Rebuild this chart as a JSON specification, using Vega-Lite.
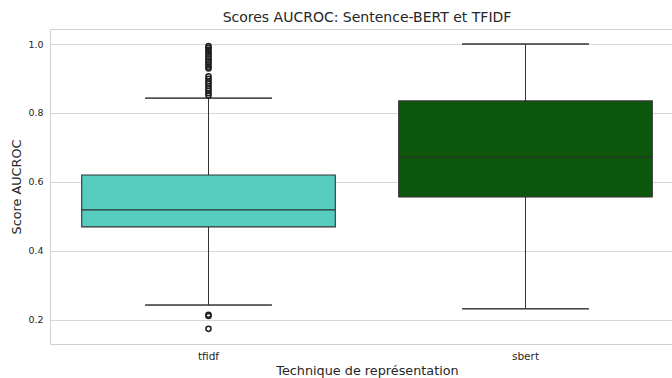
{
  "$schema": "https://vega.github.io/schema/vega-lite/v6.json",
  "autosize": {"type": "none"},
  "padding": {"left": 50, "top": 29, "right": 0, "bottom": 34},
  "width": 634,
  "height": 315,
  "background": "white",
  "config": {
    "font": "DejaVu Sans",
    "view": {"stroke": "#d0d0d0", "strokeWidth": 1},
    "axis": {
      "domain": false,
      "ticks": false,
      "labelColor": "#262626",
      "titleColor": "#262626",
      "titleFontWeight": "normal",
      "gridColor": "#d6d6d6",
      "gridWidth": 1
    }
  },
  "title": {
    "text": "Scores AUCROC: Sentence-BERT et TFIDF",
    "fontSize": 14,
    "fontWeight": "normal",
    "color": "#262626",
    "offset": 4
  },
  "datasets": {
    "boxes": [
      {"technique": "tfidf", "lower": 0.243, "q1": 0.4696, "median": 0.519, "q3": 0.620, "upper": 0.843},
      {"technique": "sbert", "lower": 0.232, "q1": 0.5565, "median": 0.672, "q3": 0.835, "upper": 1.0}
    ],
    "outliers": [
      {"technique": "tfidf", "score": 0.994},
      {"technique": "tfidf", "score": 0.989},
      {"technique": "tfidf", "score": 0.983},
      {"technique": "tfidf", "score": 0.977},
      {"technique": "tfidf", "score": 0.971},
      {"technique": "tfidf", "score": 0.964},
      {"technique": "tfidf", "score": 0.958},
      {"technique": "tfidf", "score": 0.952},
      {"technique": "tfidf", "score": 0.946},
      {"technique": "tfidf", "score": 0.940},
      {"technique": "tfidf", "score": 0.934},
      {"technique": "tfidf", "score": 0.929},
      {"technique": "tfidf", "score": 0.906},
      {"technique": "tfidf", "score": 0.899},
      {"technique": "tfidf", "score": 0.892},
      {"technique": "tfidf", "score": 0.885},
      {"technique": "tfidf", "score": 0.878},
      {"technique": "tfidf", "score": 0.871},
      {"technique": "tfidf", "score": 0.864},
      {"technique": "tfidf", "score": 0.857},
      {"technique": "tfidf", "score": 0.851},
      {"technique": "tfidf", "score": 0.215},
      {"technique": "tfidf", "score": 0.211},
      {"technique": "tfidf", "score": 0.174}
    ]
  },
  "encoding": {
    "x": {
      "field": "technique",
      "type": "nominal",
      "sort": ["tfidf", "sbert"],
      "scale": {"domain": ["tfidf", "sbert"], "paddingInner": 0, "paddingOuter": 0},
      "axis": {
        "title": "Technique de représentation",
        "labelAngle": 0,
        "labelFontSize": 10.5,
        "labelPadding": 7,
        "titleFontSize": 12.8,
        "titlePadding": 3,
        "grid": false
      }
    }
  },
  "layer": [
    {
      "data": {"name": "boxes"},
      "mark": {"type": "rule", "color": "#333333", "strokeWidth": 1},
      "encoding": {
        "y": {
          "field": "lower",
          "type": "quantitative",
          "scale": {"domain": [0.13, 1.0435], "nice": false, "zero": false},
          "axis": {
            "title": "Score AUCROC",
            "values": [0.2, 0.4, 0.6, 0.8, 1.0],
            "format": ".1f",
            "labelFontSize": 9.5,
            "labelPadding": 7,
            "titleFontSize": 12.8,
            "titlePadding": 4,
            "grid": true
          }
        },
        "y2": {"field": "upper"}
      }
    },
    {
      "data": {"name": "boxes"},
      "mark": {"type": "bar", "width": {"band": 0.8}, "stroke": "#333333", "strokeWidth": 1.1, "opacity": 1},
      "encoding": {
        "y": {"field": "q1", "type": "quantitative"},
        "y2": {"field": "q3"},
        "fill": {
          "field": "technique",
          "type": "nominal",
          "scale": {"domain": ["tfidf", "sbert"], "range": ["#56cdc0", "#0d570d"]},
          "legend": null
        }
      }
    },
    {
      "data": {"name": "boxes"},
      "mark": {"type": "bar", "width": {"band": 0.8}, "fillOpacity": 0, "stroke": "#263326", "strokeWidth": 1.2},
      "encoding": {
        "y": {"field": "median", "type": "quantitative"},
        "y2": {"field": "median"}
      }
    },
    {
      "data": {"name": "boxes"},
      "mark": {"type": "bar", "width": {"band": 0.4}, "fillOpacity": 0, "stroke": "#333333", "strokeWidth": 1},
      "encoding": {
        "y": {"field": "upper", "type": "quantitative"},
        "y2": {"field": "upper"}
      }
    },
    {
      "data": {"name": "boxes"},
      "mark": {"type": "bar", "width": {"band": 0.4}, "fillOpacity": 0, "stroke": "#333333", "strokeWidth": 1},
      "encoding": {
        "y": {"field": "lower", "type": "quantitative"},
        "y2": {"field": "lower"}
      }
    },
    {
      "data": {"name": "outliers"},
      "mark": {"type": "point", "shape": "circle", "filled": false, "size": 26, "stroke": "#1e1e1e", "strokeWidth": 1.5, "opacity": 1},
      "encoding": {
        "y": {"field": "score", "type": "quantitative"}
      }
    }
  ]
}
